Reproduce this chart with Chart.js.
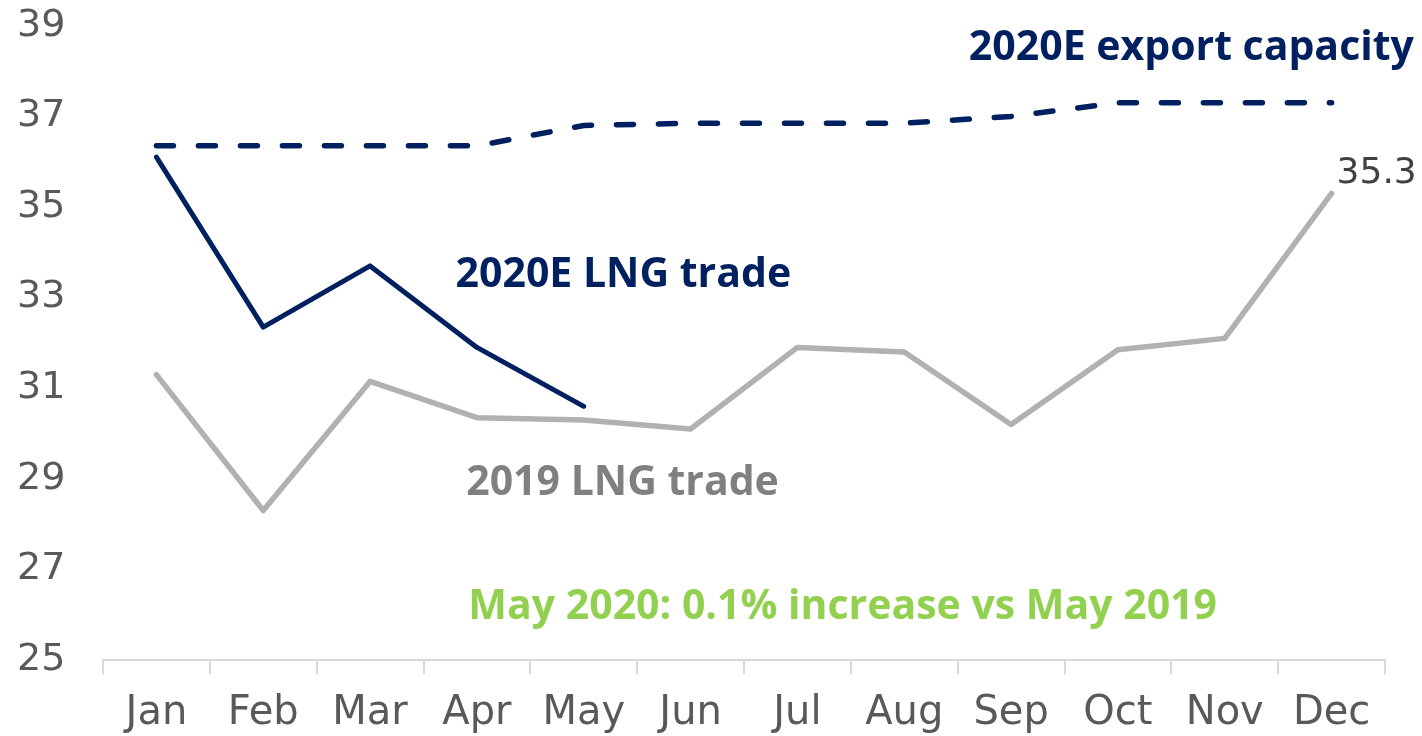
<!DOCTYPE html>
<html>
<head>
<meta charset="utf-8">
<script src="https://cdn.jsdelivr.net/npm/chart.js@4/dist/chart.umd.min.js"></script>
<style>
    html, body { margin: 0; padding: 0; background: #fff; }
    #wrap { width: 1422px; height: 736px; position: relative; }
</style>
</head>
<body>
<div id="wrap"><canvas id="lngChart"></canvas></div>
<script>
const months = ['Jan', 'Feb', 'Mar', 'Apr', 'May', 'Jun', 'Jul', 'Aug', 'Sep', 'Oct', 'Nov', 'Dec'];
const exportCapacity2020 = [36.35, 36.35, 36.35, 36.35, 36.8, 36.85, 36.85, 36.85, 37.0, 37.3, 37.3, 37.3];
const lngTrade2020 = [36.1, 32.35, 33.7, 31.9, 30.6, null, null, null, null, null, null, null];
const lngTrade2019 = [31.3, 28.3, 31.15, 30.35, 30.3, 30.1, 31.9, 31.8, 30.2, 31.85, 32.1, 35.3];
const yTicks = [25, 27, 29, 31, 33, 35, 37, 39];

const navy = '#002060';
const grey = '#b1b1b1';

// text notes placed on the chart (x = month index, y = value)
const notes = [
    { text: '2020E export capacity', x: 11.77, y: 38.5, align: 'right', color: navy },
    { text: '2020E LNG trade', x: 2.8, y: 33.5, align: 'left', color: navy },
    { text: '2019 LNG trade', x: 2.9, y: 28.9, align: 'left', color: '#808080' },
    { text: 'May 2020: 0.1% increase vs May 2019', x: 2.92, y: 26.17, align: 'left', color: '#92d050' }
];

const notesPlugin = {
    id: 'notes',
    afterDatasetsDraw(chart) {
        const ctx = chart.ctx;
        const xs = chart.scales.x, ys = chart.scales.y;
        ctx.save();
        ctx.font = 'bold 41px "Open Sans"';
        ctx.textBaseline = 'middle';
        notes.forEach(n => {
            ctx.fillStyle = n.color;
            ctx.textAlign = n.align;
            ctx.fillText(n.text, xs.getPixelForValue(n.x), ys.getPixelForValue(n.y));
        });
        // last value label of 2019 series
        const last = lngTrade2019.length - 1;
        ctx.font = '36px "DejaVu Sans"';
        ctx.fillStyle = '#404040';
        ctx.textAlign = 'left';
        ctx.fillText(lngTrade2019[last].toFixed(1), xs.getPixelForValue(last) + 5, ys.getPixelForValue(lngTrade2019[last]) - 20);
        ctx.restore();
    }
};

new Chart('lngChart', {
    type: 'line',
    data: {
        labels: months,
        datasets: [{
            data: exportCapacity2020,
            borderColor: navy,
            borderWidth: 5.5,
            borderDash: [17, 25],
            borderCapStyle: 'round',
            pointRadius: 0,
            tension: 0
        }, {
            data: lngTrade2020,
            borderColor: navy,
            borderWidth: 5,
            borderCapStyle: 'round',
            borderJoinStyle: 'round',
            pointRadius: 0,
            spanGaps: false
        }, {
            data: lngTrade2019,
            borderColor: grey,
            borderWidth: 5.5,
            borderCapStyle: 'round',
            borderJoinStyle: 'round',
            pointRadius: 0
        }]
    },
    options: {
        responsive: true,
        maintainAspectRatio: false,
        animation: false,
        layout: { padding: { left: 17, right: 37, top: 25, bottom: 0 } },
        plugins: {
            legend: { display: false },
            tooltip: { enabled: false }
        },
        scales: {
            x: {
                offset: true,
                grid: {
                    offset: true,
                    drawOnChartArea: false,
                    drawTicks: true,
                    tickLength: 14,
                    color: '#d9d9d9',
                    lineWidth: 2
                },
                border: { color: '#d9d9d9', width: 2 },
                ticks: {
                    color: '#595959',
                    font: { family: 'DejaVu Sans', size: 40 },
                    padding: 16,
                    maxRotation: 0,
                    autoSkip: false
                },
                afterFit(axis) { axis.height = 76; }
            },
            y: {
                min: 25,
                max: 39,
                afterBuildTicks(axis) { axis.ticks = yTicks.map(v => ({ value: v })); },
                grid: { display: false },
                border: { display: false },
                ticks: {
                    color: '#595959',
                    font: { family: 'DejaVu Sans', size: 38 },
                    crossAlign: 'far'
                },
                afterFit(axis) { axis.width = 86; }
            }
        }
    },
    plugins: [notesPlugin]
});
</script>
</body>
</html>
